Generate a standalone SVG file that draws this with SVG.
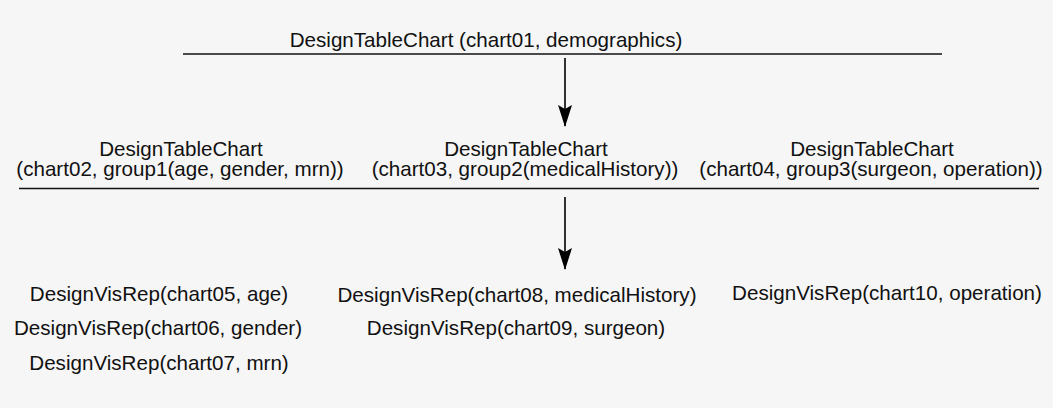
<svg xmlns="http://www.w3.org/2000/svg" width="1053" height="408" viewBox="0 0 1053 408">
  <defs>
    <marker id="arrowhead" viewBox="0 0 22 14" refX="21" refY="7" markerWidth="22" markerHeight="14" markerUnits="userSpaceOnUse" orient="auto">
      <path d="M0,0 L22,7 L0,14 L4,7 Z" fill="#000"/>
    </marker>
    <style>
      .lbl { font-family: "Liberation Sans", Arial, sans-serif; font-size: 20.6px; fill: #111; text-anchor: middle; }
      .bar { stroke: #111; stroke-width: 1.6; }
      .conn { stroke: #000; stroke-width: 1.6; fill: none; }
    </style>
  </defs>
  <rect x="0" y="0" width="1053" height="408" fill="#f6f6f6"/>

  <!-- top level chart -->
  <g id="chart01">
    <text class="lbl" x="486" y="46.5">DesignTableChart (chart01, demographics)</text>
    <line class="bar" x1="183" y1="54" x2="942" y2="54"/>
  </g>

  <!-- grouped charts -->
  <g id="chart02">
    <text class="lbl" x="181" y="156">DesignTableChart</text>
    <text class="lbl" x="180" y="176">(chart02, group1(age, gender, mrn))</text>
  </g>
  <g id="chart03">
    <text class="lbl" x="526" y="156">DesignTableChart</text>
    <text class="lbl" x="525" y="176">(chart03, group2(medicalHistory))</text>
  </g>
  <g id="chart04">
    <text class="lbl" x="872" y="156">DesignTableChart</text>
    <text class="lbl" x="871" y="176">(chart04, group3(surgeon, operation))</text>
  </g>
  <line id="groups-bar" class="bar" x1="19" y1="188.5" x2="1039" y2="188.5"/>

  <!-- visual representations -->
  <g id="chart05"><text class="lbl" x="159" y="301">DesignVisRep(chart05, age)</text></g>
  <g id="chart06"><text class="lbl" x="158" y="335">DesignVisRep(chart06, gender)</text></g>
  <g id="chart07"><text class="lbl" x="159" y="370">DesignVisRep(chart07, mrn)</text></g>
  <g id="chart08"><text class="lbl" x="517" y="302">DesignVisRep(chart08, medicalHistory)</text></g>
  <g id="chart09"><text class="lbl" x="516" y="335">DesignVisRep(chart09, surgeon)</text></g>
  <g id="chart10"><text class="lbl" x="887" y="300">DesignVisRep(chart10, operation)</text></g>

  <!-- connectors -->
  <g id="connectors">
    <line class="conn" x1="565" y1="58" x2="565" y2="126" marker-end="url(#arrowhead)"/>
    <line class="conn" x1="565" y1="197" x2="565" y2="269" marker-end="url(#arrowhead)"/>
  </g>
</svg>
